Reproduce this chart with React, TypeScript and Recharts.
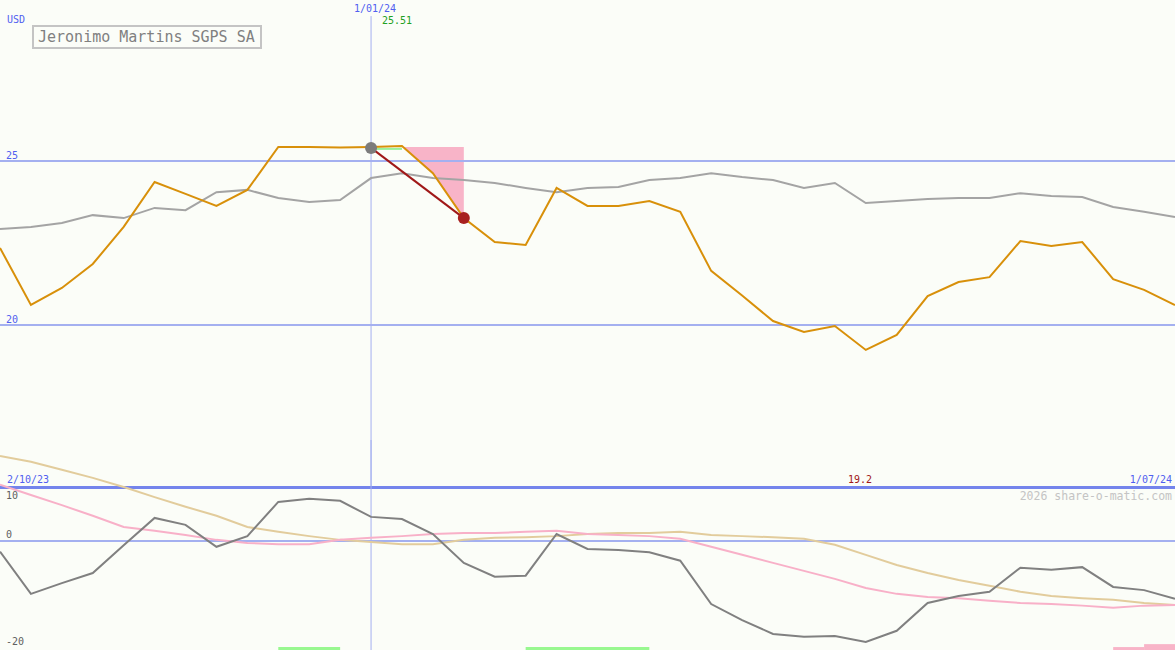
import { ComposedChart, Line, Area, XAxis, YAxis, ReferenceLine, ReferenceDot, ReferenceArea } from 'recharts'

// weekly closes, Oct 2023 - Jul 2024
const weeks = [
  '9/10/23', '16/10/23', '23/10/23', '30/10/23', '6/11/23', '13/11/23', '20/11/23', '27/11/23',
  '4/12/23', '11/12/23', '18/12/23', '25/12/23', '1/01/24', '8/01/24', '15/01/24', '22/01/24',
  '29/01/24', '5/02/24', '12/02/24', '19/02/24', '26/02/24', '4/03/24', '11/03/24', '18/03/24',
  '25/03/24', '1/04/24', '8/04/24', '15/04/24', '22/04/24', '29/04/24', '6/05/24', '13/05/24',
  '20/05/24', '27/05/24', '3/06/24', '10/06/24', '17/06/24', '24/06/24', '1/07/24',
]

const price = [
  22.35, 20.61, 21.13, 21.86, 22.99, 24.36, 24.0, 23.63, 24.12, 25.43, 25.43, 25.41, 25.43,
  25.46, 24.63, 23.26, 22.53, 22.44, 24.18, 23.63, 23.63, 23.78, 23.45, 21.65, 20.9, 20.12,
  19.79, 19.97, 19.24, 19.7, 20.88, 21.31, 21.46, 22.56, 22.41, 22.53, 21.4, 21.07, 20.61,
]

const index = [
  22.93, 22.99, 23.11, 23.35, 23.26, 23.57, 23.5, 24.05, 24.12, 23.87, 23.75, 23.81, 24.48,
  24.63, 24.48, 24.42, 24.33, 24.18, 24.05, 24.18, 24.21, 24.42, 24.48, 24.63, 24.51, 24.42,
  24.18, 24.33, 23.72, 23.78, 23.84, 23.87, 23.87, 24.02, 23.93, 23.9, 23.6, 23.45, 23.29,
]

const momentum = [
  -2.0, -9.9, -7.9, -6.0, -0.8, 4.3, 3.0, -1.1, 0.9, 7.3, 7.9, 7.5, 4.5,
  4.1, 1.3, -4.1, -6.7, -6.5, 1.3, -1.5, -1.7, -2.1, -3.7, -11.8, -14.8, -17.4,
  -17.9, -17.8, -18.9, -16.8, -11.6, -10.3, -9.5, -5.0, -5.4, -4.9, -8.6, -9.2, -10.8,
]

const fastAvg = [
  10.5, 8.6, 6.7, 4.7, 2.6, 1.9, 1.1, 0.2, -0.4, -0.6, -0.6, 0.2, 0.6,
  0.9, 1.3, 1.5, 1.5, 1.7, 1.9, 1.3, 1.1, 0.9, 0.4, -1.1, -2.6, -4.1,
  -5.6, -7.1, -8.8, -9.9, -10.5, -10.7, -11.2, -11.6, -11.8, -12.1, -12.5, -12.1, -12.0,
]

const slowAvg = [
  15.9, 14.8, 13.3, 11.8, 10.1, 8.2, 6.4, 4.7, 2.6, 1.7, 0.9, 0.2, -0.2,
  -0.6, -0.6, 0.2, 0.6, 0.7, 0.9, 1.3, 1.5, 1.5, 1.7, 1.1, 0.9, 0.7,
  0.4, -0.7, -2.6, -4.5, -6.0, -7.3, -8.4, -9.5, -10.3, -10.7, -11.0, -11.6, -12.0,
]

// drop marker: from the high to the close three weeks later
const markWeeks = ['1/01/24', '22/01/24']
const markValues = [25.4, 23.26]
const dropLevel = 25.43
const dropWeeks = ['8/01/24', '15/01/24', '22/01/24']

const buyZones = [['11/12/23', '25/12/23'], ['5/02/24', '4/03/24']]
const sellZones = [['17/06/24', '24/06/24', -19.85], ['24/06/24', '1/07/24', -19.3]]

const W = 1175
const BG = '#fbfdf8'
const BLUE_TXT = '#5060f0'
const GRID = '#a4b0f0'

const topData = weeks.map((w, i) => ({
  week: w,
  price: price[i],
  index: index[i],
  drop: dropWeeks.includes(w) ? [price[i], dropLevel] : null,
  flat: w === '1/01/24' || w === '8/01/24' ? markValues[0] - 0.03 : null,
}))

const bottomData = weeks.map((w, i) => ({
  week: w,
  momentum: momentum[i],
  fast: fastAvg[i],
  slow: slowAvg[i],
}))

const mono = '"DejaVu Sans Mono", monospace'

function Txt({ x, y, children, color = BLUE_TXT, size = 10, right = false }: any) {
  const pos: any = right ? { right: W - x } : { left: x }
  return (
    <div
      style={{
        position: 'absolute', top: y - 6, ...pos, fontFamily: mono, fontSize: size,
        lineHeight: '12px', color, whiteSpace: 'nowrap',
      }}
    >
      {children}
    </div>
  )
}

export default function App() {
  return (
    <div style={{ position: 'absolute', left: 0, top: 0, width: W, height: 650, background: BG, overflow: 'hidden' }}>
      <div style={{ position: 'absolute', left: 0, top: 0 }}>
        <ComposedChart width={W} height={487} data={topData} margin={{ top: 0, right: 0, bottom: 0, left: 0 }}>
          <XAxis dataKey="week" hide />
          <YAxis hide domain={[15.06, 29.91]} />
          <ReferenceLine y={25} stroke={GRID} strokeWidth={2} />
          <ReferenceLine y={20} stroke={GRID} strokeWidth={2} />
          <ReferenceLine
            segment={[{ x: '1/01/24', y: 29.42 }, { x: '1/01/24', y: 15.06 }]}
            stroke={GRID}
            strokeWidth={1}
          />
          <Area dataKey="drop" stroke="none" fill="#f8b4c8" fillOpacity={1} activeDot={false} isAnimationActive={false} />
          <Line dataKey="index" stroke="#a4a4a4" strokeWidth={2} dot={false} activeDot={false} isAnimationActive={false} />
          <Line dataKey="flat" stroke="#98f098" strokeWidth={2} dot={false} activeDot={false} isAnimationActive={false} />
          <Line dataKey="price" stroke="#d8900a" strokeWidth={2} dot={false} activeDot={false} isAnimationActive={false} />
          <ReferenceLine
            segment={[{ x: markWeeks[0], y: markValues[0] }, { x: markWeeks[1], y: markValues[1] }]}
            stroke="#a01818"
            strokeWidth={2}
          />
          <ReferenceDot x={markWeeks[0]} y={markValues[0]} r={6} fill="#7c7c7c" stroke="none" />
          <ReferenceDot x={markWeeks[1]} y={markValues[1]} r={6} fill="#a82020" stroke="none" />
        </ComposedChart>
      </div>
      <div style={{ position: 'absolute', left: 0, top: 440 }}>
        <ComposedChart width={W} height={210} data={bottomData} margin={{ top: 0, right: 0, bottom: 0, left: 0 }}>
          <XAxis dataKey="week" hide />
          <YAxis hide domain={[-20.4, 18.88]} />
          <ReferenceLine y={10} stroke="#7484ec" strokeWidth={3} />
          <ReferenceLine y={0} stroke={GRID} strokeWidth={2} />
          <ReferenceLine x="1/01/24" stroke={GRID} strokeWidth={1} />
          {buyZones.map((z, k) => (
            <ReferenceArea key={'b' + k} x1={z[0]} x2={z[1]} y1={-20.4} y2={-19.85} fill="#98f890" fillOpacity={1} stroke="none" />
          ))}
          {sellZones.map((z, k) => (
            <ReferenceArea key={'s' + k} x1={z[0] as string} x2={z[1] as string} y1={-20.4} y2={z[2] as number} fill="#f8b4c8" fillOpacity={1} stroke="none" />
          ))}
          <Line dataKey="slow" stroke="#e2cc9c" strokeWidth={2} dot={false} activeDot={false} isAnimationActive={false} />
          <Line dataKey="fast" stroke="#f8b0c8" strokeWidth={2} dot={false} activeDot={false} isAnimationActive={false} />
          <Line dataKey="momentum" stroke="#808080" strokeWidth={2} dot={false} activeDot={false} isAnimationActive={false} />
        </ComposedChart>
      </div>

      <div
        style={{
          position: 'absolute', left: 32, top: 25, width: 222, height: 20, border: '2px solid #c4c4c4',
          fontFamily: mono, fontSize: 15, lineHeight: '20px', color: '#808080', paddingLeft: 4, boxSizing: 'content-box',
        }}
      >
        Jeronimo Martins SGPS SA
      </div>
      <Txt x={7} y={20}>USD</Txt>
      <Txt x={354} y={9}>1/01/24</Txt>
      <Txt x={382} y={21} color="#22a022">25.51</Txt>
      <Txt x={6} y={156}>25</Txt>
      <Txt x={6} y={320}>20</Txt>
      <Txt x={7} y={480}>2/10/23</Txt>
      <Txt x={848} y={480} color="#a01818">19.2</Txt>
      <Txt x={1172} y={480} right>1/07/24</Txt>
      <Txt x={1172} y={496} right size={11.5} color="#c4c4c4">2026 share-o-matic.com</Txt>
      <Txt x={6} y={496} color="#606060">10</Txt>
      <Txt x={6} y={535} color="#606060">0</Txt>
      <Txt x={6} y={642} color="#606060">-20</Txt>
    </div>
  )
}
